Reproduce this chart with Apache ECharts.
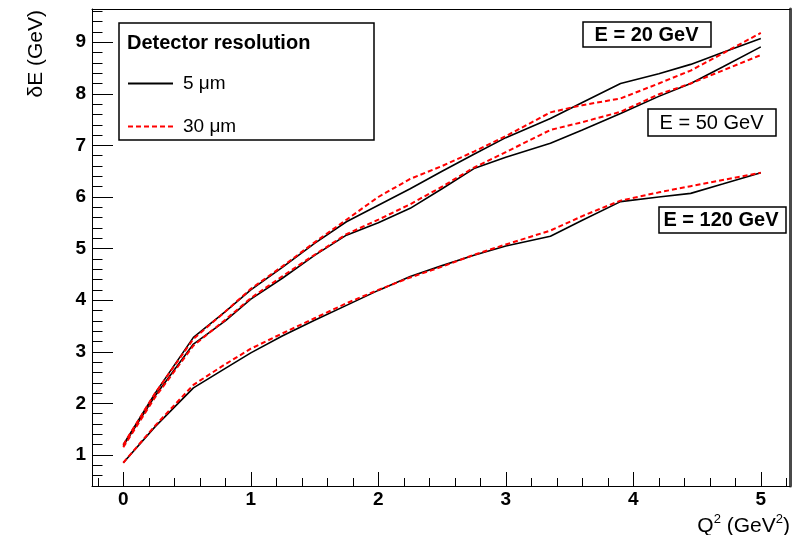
<!DOCTYPE html>
<html>
<head>
<meta charset="utf-8">
<script src="https://cdn.jsdelivr.net/npm/echarts@6/dist/echarts.min.js"></script>
<style>html,body{margin:0;padding:0;background:#fff;}#c{width:796px;height:535px;}</style>
</head>
<body>
<div id="c"></div>
<script>
// ---- data ----
const q2 = [0, 0.25, 0.55, 0.8, 1.0, 1.25, 1.5, 1.75, 2.0, 2.25, 2.5, 2.75, 3.0, 3.35, 3.6, 3.9, 4.2, 4.45, 4.7, 5.0];
const e20_5um  = [1.20, 2.20, 3.28, 3.78, 4.20, 4.64, 5.10, 5.52, 5.84, 6.16, 6.50, 6.83, 7.15, 7.52, 7.83, 8.20, 8.39, 8.57, 8.80, 9.07];
const e20_30um = [1.20, 2.20, 3.25, 3.78, 4.22, 4.66, 5.12, 5.56, 6.00, 6.35, 6.60, 6.88, 7.18, 7.64, 7.78, 7.91, 8.20, 8.45, 8.78, 9.18];
const e50_5um  = [1.18, 2.15, 3.15, 3.60, 4.02, 4.43, 4.87, 5.26, 5.50, 5.78, 6.16, 6.55, 6.77, 7.04, 7.30, 7.62, 7.95, 8.20, 8.52, 8.91];
const e50_30um = [1.15, 2.12, 3.12, 3.62, 4.04, 4.47, 4.88, 5.28, 5.56, 5.86, 6.20, 6.57, 6.87, 7.30, 7.45, 7.65, 7.99, 8.20, 8.45, 8.75];
const e120_5um  = [0.85, 1.55, 2.30, 2.68, 2.98, 3.31, 3.61, 3.90, 4.19, 4.46, 4.67, 4.87, 5.05, 5.24, 5.55, 5.91, 6.00, 6.07, 6.25, 6.47];
const e120_30um = [0.85, 1.57, 2.36, 2.76, 3.06, 3.36, 3.65, 3.94, 4.20, 4.44, 4.65, 4.88, 5.08, 5.35, 5.63, 5.93, 6.09, 6.21, 6.33, 6.47];
const xMajor = [0, 5], yMajor = [1, 9];
const xMinorExt = [-0.2, 5.2], yMinorExt = [0.4, 9.6];
const legendTitle = 'Detector resolution';
const boxLabels = ['E = 20 GeV', 'E = 50 GeV', 'E = 120 GeV'];

// ---- layout ----
const FONT = "'Liberation Sans', Arial, Helvetica, sans-serif";
const X0 = 123.3, KX = 127.5, Y1 = 455, KY = 51.6;
const L = 92, R = 790, T = 9, B = 486;
const xpx = v => X0 + v * KX;
const ypx = v => Y1 - (v - 1) * KY;

function zip(ys) { return q2.map((x, i) => [x, ys[i]]); }

const gA = {left: L, top: T, width: R - L, height: B - T};
const gB = {left: xpx(xMinorExt[0]), width: (xMinorExt[1] - xMinorExt[0]) * KX,
            top: ypx(yMinorExt[1]), height: (yMinorExt[1] - yMinorExt[0]) * KY};
const gC = {left: xpx(xMajor[0]), width: (xMajor[1] - xMajor[0]) * KX,
            top: ypx(yMajor[1]), height: (yMajor[1] - yMajor[0]) * KY};

const hidden = {axisLine: {show: false, onZero: false}, axisTick: {show: false}, axisLabel: {show: false}, splitLine: {show: false}};
const labelStyle = {color: '#000', fontFamily: FONT, fontWeight: 'bold', fontSize: 19};

function solid(ys) {
  return {type: 'line', name: '5 μm', data: zip(ys), symbol: 'none', xAxisIndex: 0, yAxisIndex: 0,
    lineStyle: {color: '#000', width: 1.6}, itemStyle: {color: '#000', opacity: 0}, z: 2, silent: true};
}
function dashed(ys) {
  return {type: 'line', name: '30 μm', data: zip(ys), symbol: 'none', xAxisIndex: 0, yAxisIndex: 0,
    lineStyle: {color: '#ff0000', width: 2, type: [5, 3]}, itemStyle: {color: '#ff0000', opacity: 0}, z: 3, silent: true};
}

const option = {
  animation: false,
  backgroundColor: '#fff',
  grid: [
    Object.assign({containLabel: false}, gA),
    Object.assign({containLabel: false}, gB),
    Object.assign({containLabel: false}, gC)
  ],
  xAxis: [
    Object.assign({}, hidden, {type: 'value', gridIndex: 0, min: (L - X0) / KX, max: (R - X0) / KX,
      axisLine: {show: true, onZero: false, lineStyle: {color: '#000', width: 1}}}),
    Object.assign({}, hidden, {type: 'value', gridIndex: 0, position: 'top', min: (L - X0) / KX, max: (R - X0) / KX,
      axisLine: {show: true, onZero: false, lineStyle: {color: '#000', width: 1}}}),
    Object.assign({}, hidden, {type: 'value', gridIndex: 1, min: xMinorExt[0], max: xMinorExt[1], interval: 0.2,
      offset: B - (gB.top + gB.height),
      axisTick: {show: true, inside: true, length: 8, lineStyle: {color: '#000', width: 1}}}),
    Object.assign({}, hidden, {type: 'value', gridIndex: 2, min: xMajor[0], max: xMajor[1], interval: 1,
      offset: B - (gC.top + gC.height),
      axisTick: {show: true, inside: true, length: 14, lineStyle: {color: '#000', width: 1}},
      axisLabel: Object.assign({show: true, margin: 4}, labelStyle)})
  ],
  yAxis: [
    Object.assign({}, hidden, {type: 'value', gridIndex: 0, min: 1 + (Y1 - B) / KY, max: 1 + (Y1 - T) / KY,
      axisLine: {show: true, onZero: false, lineStyle: {color: '#000', width: 1}}}),
    Object.assign({}, hidden, {type: 'value', gridIndex: 0, position: 'right', min: 1 + (Y1 - B) / KY, max: 1 + (Y1 - T) / KY,
      axisLine: {show: true, onZero: false, lineStyle: {color: '#4a4a4a', width: 3}}}),
    Object.assign({}, hidden, {type: 'value', gridIndex: 1, min: yMinorExt[0], max: yMinorExt[1], interval: 0.2,
      offset: gB.left - L,
      axisTick: {show: true, inside: true, length: 10.5, lineStyle: {color: '#000', width: 1}}}),
    Object.assign({}, hidden, {type: 'value', gridIndex: 2, min: yMajor[0], max: yMajor[1], interval: 1,
      offset: gC.left - L,
      axisTick: {show: true, inside: true, length: 21, lineStyle: {color: '#000', width: 1}},
      axisLabel: Object.assign({show: true, margin: 6}, labelStyle)})
  ],
  legend: {
    show: true, orient: 'vertical', left: 127, top: 74, padding: 0,
    itemWidth: 45, itemHeight: 14, itemGap: 24,
    data: ['5 μm', '30 μm'], selectedMode: false,
    itemStyle: {opacity: 0},
    textStyle: {color: '#000', fontFamily: FONT, fontSize: 19, padding: [0, 0, 0, 5]}
  },
  series: [
    solid(e20_5um), dashed(e20_30um),
    solid(e50_5um), dashed(e50_30um),
    solid(e120_5um), dashed(e120_30um)
  ],
  graphic: [
    {type: 'rect', z: 1, shape: {x: 119, y: 23, width: 255, height: 117}, style: {fill: '#fff', stroke: '#000', lineWidth: 1.5}},
    {type: 'text', z: 5, x: 127, y: 43, style: {text: legendTitle, font: 'bold 20px ' + FONT, fill: '#000', align: 'left', verticalAlign: 'middle'}},
    {type: 'rect', z: 5, shape: {x: 583, y: 22, width: 128, height: 25}, style: {fill: '#fff', stroke: '#000', lineWidth: 1.5}},
    {type: 'text', z: 6, x: 646.5, y: 35, style: {text: boxLabels[0], font: 'bold 20px ' + FONT, fill: '#000', align: 'center', verticalAlign: 'middle'}},
    {type: 'rect', z: 5, shape: {x: 648, y: 109, width: 128, height: 27}, style: {fill: '#fff', stroke: '#000', lineWidth: 1.5}},
    {type: 'text', z: 6, x: 711.5, y: 123, style: {text: boxLabels[1], font: '20px ' + FONT, fill: '#000', align: 'center', verticalAlign: 'middle'}},
    {type: 'rect', z: 5, shape: {x: 659, y: 207, width: 127, height: 26}, style: {fill: '#fff', stroke: '#000', lineWidth: 1.5}},
    {type: 'text', z: 6, x: 721, y: 220.5, style: {text: boxLabels[2], font: 'bold 20px ' + FONT, fill: '#000', align: 'center', verticalAlign: 'middle'}},
    {type: 'text', z: 6, x: 36, y: 10, rotation: Math.PI / 2,
      style: {text: 'δE (GeV)', font: '21px ' + FONT, fill: '#000', align: 'right', verticalAlign: 'middle'}},
    {type: 'text', z: 6, x: 790, y: 513,
      style: {text: '{a|Q}{s|2}{a| (GeV}{s|2}{a|)}', fill: '#000', align: 'right', verticalAlign: 'top',
        rich: {a: {fontFamily: FONT, fontSize: 21, lineHeight: 24, fill: '#000', verticalAlign: 'bottom'},
               s: {fontFamily: FONT, fontSize: 13, lineHeight: 14, fill: '#000', verticalAlign: 'top'}}}}
  ]
};

const chart = echarts.init(document.getElementById('c'), null, {renderer: 'canvas'});
chart.setOption(option);
</script>
</body>
</html>
